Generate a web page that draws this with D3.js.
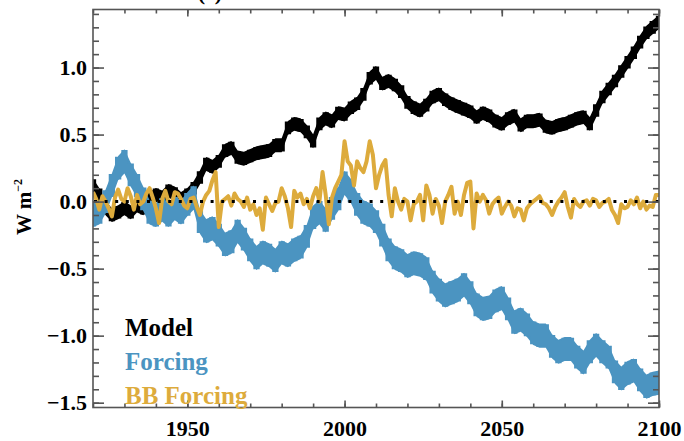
<!DOCTYPE html>
<html><head><meta charset="utf-8">
<script src="https://cdn.jsdelivr.net/npm/d3@7"></script>
<style>
html,body{margin:0;padding:0;background:#fff;}
svg text{font-family:'Liberation Serif','Times New Roman',Times,'DejaVu Serif',serif !important;font-weight:bold;}
</style></head>
<body><svg id="chart" width="684" height="441"></svg>
<script>
// ---- data ----
const modelYears = d3.range(1920, 2101, 2);
const modelValues = [0.12,0.05,-0.05,-0.1,-0.08,-0.05,-0.08,-0.03,-0.05,0.02,
 0.05,0.03,0.08,0.06,0.02,0.05,0.1,0.18,0.28,0.26,
 0.3,0.38,0.4,0.33,0.32,0.34,0.36,0.37,0.38,0.42,
 0.42,0.55,0.58,0.57,0.52,0.45,0.58,0.62,0.6,0.66,
 0.65,0.7,0.73,0.8,0.92,0.96,0.88,0.9,0.87,0.82,
 0.74,0.7,0.68,0.72,0.78,0.8,0.76,0.73,0.71,0.69,
 0.67,0.63,0.66,0.64,0.6,0.58,0.62,0.64,0.57,0.6,
 0.6,0.61,0.56,0.55,0.57,0.58,0.6,0.62,0.63,0.58,
 0.68,0.78,0.84,0.9,0.97,1.04,1.11,1.19,1.26,1.3,1.34];
const forcingYears = d3.range(1920, 2101, 2);
const forcingValues = [-0.1,-0.08,0.0,0.12,0.25,0.3,0.2,0.12,0.02,-0.08,
 -0.1,-0.06,-0.1,-0.05,-0.08,-0.02,0.03,-0.15,-0.22,-0.2,
 -0.25,-0.32,-0.3,-0.22,-0.28,-0.36,-0.42,-0.38,-0.4,-0.44,
 -0.38,-0.4,-0.36,-0.34,-0.26,-0.12,-0.08,-0.14,-0.05,0.02,
 0.14,0.08,-0.02,-0.08,-0.1,-0.15,-0.25,-0.36,-0.42,-0.44,
 -0.48,-0.46,-0.47,-0.5,-0.6,-0.66,-0.7,-0.68,-0.66,-0.62,
 -0.68,-0.77,-0.8,-0.79,-0.74,-0.72,-0.8,-0.9,-0.88,-0.92,
 -0.98,-1.0,-1.0,-1.08,-1.12,-1.1,-1.1,-1.16,-1.2,-1.12,
 -1.07,-1.12,-1.16,-1.27,-1.32,-1.28,-1.26,-1.33,-1.38,-1.36,-1.35];
const bbYears = d3.range(1920, 2101, 1);
const bbValues = [0.07,0.02,-0.06,0.04,0.0,-0.05,-0.11,0.03,0.09,0.02,
 0.0,0.1,0.04,-0.06,0.05,-0.02,0.0,0.06,0.1,0.03,
 -0.05,-0.16,0.02,0.08,0.0,-0.02,0.07,0.06,0.02,-0.03,
 -0.05,0.02,0.03,-0.04,-0.1,0.0,0.05,0.08,0.16,0.22,
 -0.19,0.0,0.02,0.04,-0.03,0.06,0.02,0.0,-0.04,0.03,
 -0.06,-0.02,-0.1,-0.05,-0.21,0.03,-0.02,-0.07,-0.01,0.0,
 0.1,0.04,-0.05,-0.19,0.08,0.03,0.06,-0.02,0.02,-0.05,
 0.04,0.1,0.0,0.22,0.05,-0.17,0.03,0.1,0.15,0.2,
 0.45,0.3,0.27,0.12,0.3,0.25,0.22,0.3,0.45,0.35,
 0.1,0.2,0.27,0.31,0.05,-0.11,0.1,0.0,-0.06,0.02,
 0.0,-0.14,-0.02,0.0,0.05,-0.14,0.12,0.05,-0.09,0.02,
 -0.03,-0.16,0.0,0.05,0.11,-0.09,0.0,-0.1,0.05,0.14,
 0.15,-0.2,0.06,0.0,0.05,0.01,-0.09,-0.02,0.01,0.03,
 -0.09,-0.04,0.0,-0.03,-0.11,-0.05,-0.06,-0.14,-0.05,-0.02,
 0.0,0.02,0.04,-0.01,-0.02,-0.05,-0.1,-0.04,0.0,0.03,
 0.07,-0.04,-0.12,0.02,-0.02,-0.04,0.0,0.01,-0.03,0.02,
 0.01,-0.04,-0.01,0.0,0.02,-0.06,-0.1,-0.16,-0.02,-0.05,
 -0.04,0.01,-0.02,0.03,-0.05,0.0,-0.06,-0.03,-0.04,0.05,0.05];
const xMajorTicks = [1950, 2000, 2050, 2100];
const xMinorTicks = d3.range(1920, 2101, 10);
const yMajorTicks = [-1.5, -1.0, -0.5, 0.0, 0.5, 1.0];
const yMinorTicks = d3.range(-15, 15).map(d => d / 10);
const legendLabels = ["Model", "Forcing", "BB Forcing"];
const seriesColors = ["#000000", "#4b94c1", "#ddab3c"];

// ---- layout ----
const L = 93, R = 659, T = 9.5, B = 407.5;
const FONT = "'Liberation Serif','Times New Roman',Times,'DejaVu Serif',serif";
const svg = d3.select("#chart");
const x = d3.scaleLinear().domain([1920, 2100]).range([L, R]);
const y = d3.scaleLinear().domain([-1.536, 1.433]).range([B, T]);

svg.append("clipPath").attr("id", "clip")
  .append("rect").attr("x", L).attr("y", T).attr("width", R - L).attr("height", B - T);
const plot = svg.append("g").attr("clip-path", "url(#clip)");

function band(years, vals, hw, curve) {
  const data = years.map((yr, i) => ({ yr, v: vals[i] }));
  return d3.area().curve(curve)
    .x(d => x(d.yr)).y0(d => y(d.v - hw)).y1(d => y(d.v + hw))(data);
}
function drawBand(years, vals, hwLin, hwStep, col) {
  plot.append("path").attr("d", band(years, vals, hwLin, d3.curveLinear)).attr("fill", col);
  plot.append("path").attr("d", band(years, vals, hwStep, d3.curveStep)).attr("fill", col);
}
drawBand(modelYears, modelValues, 0.052, 0.047, seriesColors[0]);
drawBand(forcingYears, forcingValues, 0.09, 0.085, seriesColors[1]);
plot.append("path")
  .attr("d", d3.line().x((d, i) => x(bbYears[i])).y(d => y(d))(bbValues))
  .attr("fill", "none").attr("stroke", seriesColors[2]).attr("stroke-width", 4)
  .attr("stroke-linejoin", "round");
// dotted zero line
plot.append("line").attr("x1", L + 1).attr("x2", R).attr("y1", y(0)).attr("y2", y(0))
  .attr("stroke", "#000").attr("stroke-width", 3).attr("stroke-dasharray", "3,7.6");

// ---- axes ----
const axCol = "#555";
function style(g) {
  g.attr("font-family", null).attr("font-size", null);
  g.select(".domain").remove();
  g.selectAll(".tick line").attr("stroke", axCol).attr("stroke-width", 1.6);
  g.selectAll("text").attr("fill", "#000").style("font-size", "22px")
    .style("font-family", FONT).style("font-weight", "bold");
}
svg.append("g").attr("transform", `translate(${L},0)`)
  .call(d3.axisLeft(y).tickValues(yMinorTicks).tickSize(-6).tickFormat("")).call(style);
svg.append("g").attr("transform", `translate(${L},0)`)
  .call(d3.axisLeft(y).tickValues(yMajorTicks).tickSize(-11).tickPadding(6).tickFormat(d3.format(".1f"))).call(style);
svg.append("g").attr("transform", `translate(${R},0)`)
  .call(d3.axisRight(y).tickValues(yMinorTicks).tickSize(-6).tickFormat("")).call(style);
svg.append("g").attr("transform", `translate(${R},0)`)
  .call(d3.axisRight(y).tickValues(yMajorTicks).tickSize(-11).tickFormat("")).call(style);
svg.append("g").attr("transform", `translate(0,${B})`)
  .call(d3.axisBottom(x).tickValues(xMinorTicks).tickSize(-4).tickFormat("")).call(style);
svg.append("g").attr("transform", `translate(0,${B})`)
  .call(d3.axisBottom(x).tickValues(xMajorTicks).tickSize(-7).tickPadding(13).tickFormat(d3.format("d"))).call(style);
svg.append("g").attr("transform", `translate(0,${T})`)
  .call(d3.axisTop(x).tickValues(xMinorTicks).tickSize(-4).tickFormat("")).call(style);
svg.append("g").attr("transform", `translate(0,${T})`)
  .call(d3.axisTop(x).tickValues(xMajorTicks).tickSize(-7).tickFormat("")).call(style);
svg.append("rect").attr("x", L).attr("y", T).attr("width", R - L).attr("height", B - T)
  .attr("fill", "none").attr("stroke", axCol).attr("stroke-width", 1.6);

// y label
const yl = svg.append("text").attr("transform", "translate(31,207) rotate(-90)")
  .attr("text-anchor", "middle").style("font-size", "21px").style("font-family", FONT).attr("fill", "#000");
yl.append("tspan").text("W m");
yl.append("tspan").attr("dy", -9).style("font-size", "12px").text("\u22122");

// title (cut off at top, as in the reference)
svg.append("text").attr("x", 210).attr("y", 0).attr("text-anchor", "middle")
  .style("font-size", "22px").style("font-family", FONT).attr("fill", "#000").text("(c)");

// legend
legendLabels.forEach((lab, i) => {
  svg.append("text").attr("x", 125).attr("y", 336 + i * 34)
    .style("font-size", "25px").style("font-family", FONT).attr("fill", seriesColors[i]).text(lab);
});
</script></body></html>
